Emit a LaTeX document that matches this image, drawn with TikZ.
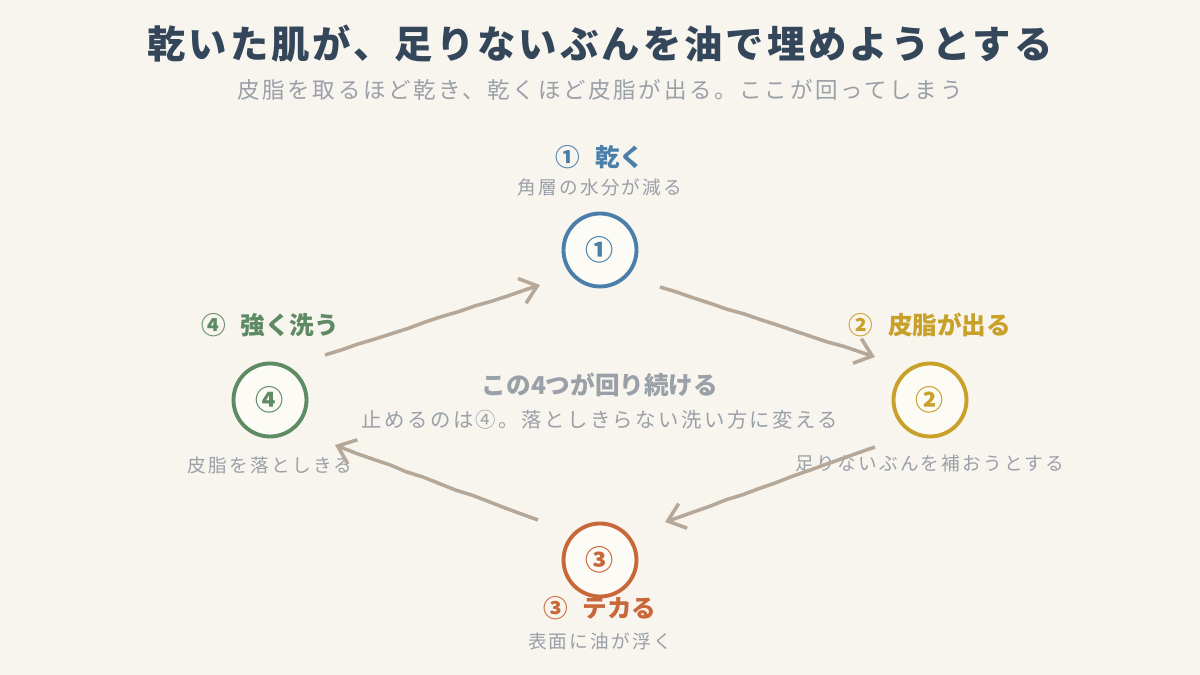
\documentclass[tikz,border=0pt]{standalone}
\usepackage{fontspec}
\setmainfont{Noto Sans CJK JP}
\newfontfamily\widejp[LetterSpace=12]{Noto Sans CJK JP}
\newfontfamily\titlejp[LetterSpace=8]{Noto Sans CJK JP}
\usetikzlibrary{positioning,decorations.pathmorphing,arrows.meta}
\definecolor{bgc}{HTML}{F8F4EE}
\definecolor{fillc}{HTML}{FCFBF6}
\definecolor{titlec}{HTML}{34465A}
\definecolor{greyc}{HTML}{9AA0A8}
\definecolor{arrowc}{HTML}{B5A898}
\definecolor{bluec}{HTML}{4A7FAA}
\definecolor{goldc}{HTML}{C9A02A}
\definecolor{orangec}{HTML}{C8683A}
\definecolor{greenc}{HTML}{5E8A64}
\tikzset{
  step/.style={circle,draw=#1,text=#1,fill=fillc,line width=1.1pt,minimum size=7.3mm,inner sep=0pt,font=\fontsize{8}{8}\selectfont\bfseries},
  head/.style={text=#1,font=\fontsize{7}{8}\selectfont\bfseries},
  note/.style={text=greyc,font=\widejp\fontsize{5.3}{6}\selectfont},
  flow/.style={draw=arrowc,line width=1pt,-{Straight Barb[length=1.6mm,width=2.6mm]},
    decorate,decoration={random steps,segment length=5pt,amplitude=0.15pt}},
}
\begin{document}
\begin{tikzpicture}
  \fill[bgc] (0,0) rectangle (12,6.75);
  \useasboundingbox (0,0) rectangle (12,6.75);
  % title
  \node[text=titlec,font=\titlejp\fontsize{10.9}{12}\selectfont\bfseries] (title) at (6,6.31) {乾いた肌が、足りないぶんを油で埋めようとする};
  \node[text=greyc,font=\widejp\fontsize{6.4}{7}\selectfont] (sub) at (6,5.85) {皮脂を取るほど乾き、乾くほど皮脂が出る。ここが回ってしまう};
  % steps
  \node[step=bluec] (c1) at (6,4.25) {①};
  \node[step=goldc] (c2) at (9.3,2.75) {②};
  \node[step=orangec] (c3) at (6,1.15) {③};
  \node[step=greenc] (c4) at (2.7,2.75) {④};
  \node[head=bluec] (h1) at (6,5.18) {①\hspace{0.6em}乾く};
  \node[note] (n1) at (6,4.88) {角層の水分が減る};
  \node[head=goldc] (h2) at (9.3,3.5) {②\hspace{0.6em}皮脂が出る};
  \node[note] (n2) at (9.3,2.12) {足りないぶんを補おうとする};
  \node[head=orangec] (h3) at (6,0.67) {③\hspace{0.6em}テカる};
  \node[note] (n3) at (6,0.34) {表面に油が浮く};
  \node[head=greenc] (h4) at (2.7,3.5) {④\hspace{0.6em}強く洗う};
  \node[note] (n4) at (2.7,2.1) {皮脂を落としきる};
  % centre
  \node[text=greyc,font=\fontsize{7}{8}\selectfont\bfseries] (mid) at (6,2.9) {この4つが回り続ける};
  \node[text=greyc,font=\widejp\fontsize{5.8}{7}\selectfont] (midb) at (6,2.55) {止めるのは④。落としきらない洗い方に変える};
  % arrows
  \coordinate (a1) at (3.25,3.2);  \coordinate (b1) at (5.4,3.9);
  \coordinate (a2) at (6.6,3.88);  \coordinate (b2) at (8.75,3.18);
  \coordinate (a3) at (8.75,2.28); \coordinate (b3) at (6.65,1.53);
  \coordinate (a4) at (5.38,1.55); \coordinate (b4) at (3.35,2.3);
  \draw[flow] (a1) -- (b1);
  \draw[flow] (a2) -- (b2);
  \draw[flow] (a3) -- (b3);
  \draw[flow] (a4) -- (b4);
\end{tikzpicture}
\end{document}
